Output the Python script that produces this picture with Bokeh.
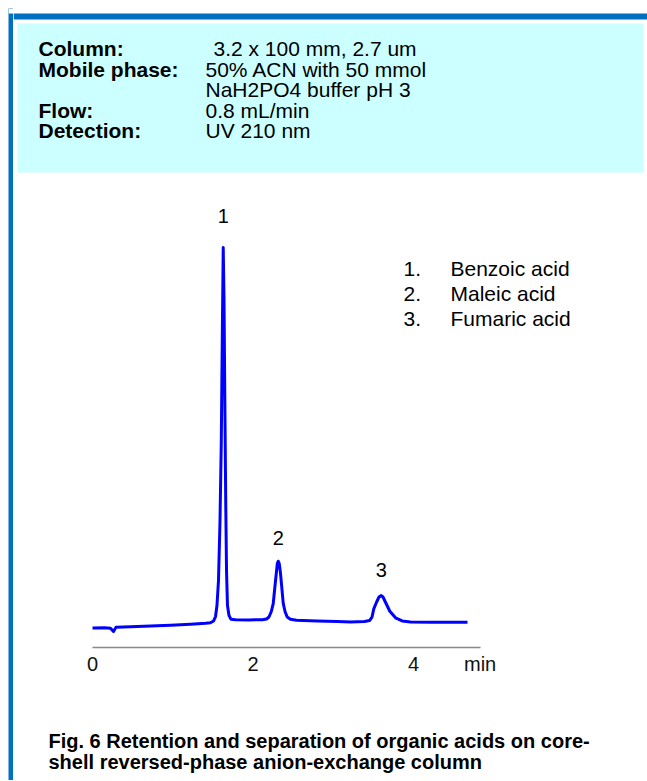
from bokeh.plotting import figure
from bokeh.models import Range1d, FixedTicker
from bokeh.layouts import column, row
from bokeh.embed import file_html
from bokeh.resources import INLINE
from bokeh.core.properties import value

# ---------------- data ----------------
time_min = [0.000, 0.150, 0.224, 0.262, 0.293, 0.474, 0.723, 0.972, 1.221, 1.408,
            1.470, 1.508, 1.533, 1.551, 1.570, 1.589, 1.605, 1.617, 1.629, 1.639,
            1.649, 1.660, 1.670, 1.682, 1.701, 1.726, 1.782, 1.950, 2.118, 2.168,
            2.199, 2.228, 2.252, 2.272, 2.290, 2.303, 2.314, 2.327, 2.343, 2.359,
            2.377, 2.399, 2.426, 2.467, 2.542, 2.800, 3.050, 3.215, 3.389, 3.452,
            3.483, 3.505, 3.539, 3.570, 3.598, 3.620, 3.651, 3.705, 3.776, 3.859,
            3.963, 4.212, 4.461, 4.673]
signal_mau = [-0.13, -0.05, -0.15, -1.00, 0.10, 0.20, 0.38, 0.55, 0.83, 1.05,
              1.20, 1.63, 2.75, 5.51, 11.77, 26.79, 46.82, 71.86, 95.14, 81.87,
              56.84, 31.80, 14.27, 5.51, 3.00, 2.05, 1.93, 1.90, 1.95, 2.13,
              2.63, 4.01, 6.01, 10.02, 13.52, 16.02, 16.60, 16.02, 13.52, 10.02,
              6.01, 4.01, 2.63, 2.05, 1.80, 1.62, 1.48, 1.40, 1.50, 1.75,
              2.63, 4.68, 6.33, 7.64, 8.01, 7.64, 6.33, 4.08, 2.43, 1.65,
              1.38, 1.30, 1.35, 1.33]

peak_ids = ["1", "2", "3"]
peak_times = [1.629, 2.314, 3.598]
peak_label_y = [103.0, 22.5, 14.5]

compound_nums = ["1.", "2.", "3."]
compound_names = ["Benzoic acid", "Maleic acid", "Fumaric acid"]

cond_keys = ["Column:", "Mobile phase:", "", "Flow:", "Detection:"]
cond_values = ["3.2 x 100 mm,  2.7 um", "50% ACN with 50 mmol",
               "NaH2PO4 buffer  pH 3", "0.8 mL/min", "UV 210 nm"]

x_ticks = [0, 2, 4]
x_unit = "min"
x_unit_pos = 4.83

caption_lines = ["Fig. 6 Retention and separation of organic acids on core-",
                 "shell reversed-phase anion-exchange column"]

# ---------------- styling / layout ----------------
BLUE = "#0070C0"
CYAN = "#CCFFFF"
TRACE = "#0000FF"
FONT_NAME = "Liberation Sans"
FONT = value(FONT_NAME)
FS_HEAD = "21px"
FS_LEG = "21px"
FS_AX = "20px"
FS_CAP = "20px"

W = 639
BAR = 5
FRAME_W = W - BAR
FRAME_H = 639
H_B = 102
H_TOTAL = 772
PX_PER_MIN = 80.25
X0 = 79
x_start = -X0 / PX_PER_MIN
x_end = x_start + FRAME_W / PX_PER_MIN

# left frame bar
bar = figure(width=BAR, height=H_TOTAL, output_backend="svg", toolbar_location=None,
             x_range=Range1d(0, 1), y_range=Range1d(H_TOTAL, 0),
             x_axis_location=None, y_axis_location=None,
             min_border_left=0, min_border_right=0, min_border_top=0,
             min_border_bottom=0, background_fill_color=BLUE,
             border_fill_color=BLUE, outline_line_color=None)
bar.grid.visible = False
bar.quad(left=[0], right=[1], top=[0], bottom=[5], fill_color="white", line_color=None)

p = figure(frame_width=FRAME_W, frame_height=FRAME_H, output_backend="svg",
           toolbar_location=None,
           x_range=Range1d(x_start, x_end), y_range=Range1d(-5, 155),
           y_axis_location=None,
           min_border_left=0, min_border_right=0, min_border_top=0,
           min_border_bottom=0,
           border_fill_color="white", background_fill_color="white",
           outline_line_color=None)
p.grid.visible = False
p.extra_x_ranges = {"px": Range1d(BAR, W)}
p.extra_y_ranges = {"py": Range1d(FRAME_H, 0)}

# frame top bar + info box
p.quad(left=[BAR], right=[W], top=[5], bottom=[11], fill_color=BLUE,
       line_color=None, x_range_name="px", y_range_name="py")
p.quad(left=[9], right=[635], top=[15], bottom=[164], fill_color=CYAN,
       line_color=None, x_range_name="px", y_range_name="py")

rows_y = [40, 60.5, 81, 101.5, 122]
p.text(x=[30] * len(cond_keys), y=rows_y, text=cond_keys, text_font=FONT,
       text_font_size=FS_HEAD, text_font_style="bold", text_baseline="middle",
       text_align="left", text_color="black", x_range_name="px", y_range_name="py")
p.text(x=[205, 197, 197, 197, 197], y=rows_y, text=cond_values, text_font=FONT,
       text_font_size=FS_HEAD, text_baseline="middle", text_align="left",
       text_color="black", x_range_name="px", y_range_name="py")

# legend of compounds
leg_y = [260, 285, 310]
p.text(x=[395] * 3, y=leg_y, text=compound_nums, text_font=FONT, text_font_size=FS_LEG,
       text_baseline="middle", text_align="left", text_color="black",
       x_range_name="px", y_range_name="py")
p.text(x=[442] * 3, y=leg_y, text=compound_names, text_font=FONT, text_font_size=FS_LEG,
       text_baseline="middle", text_align="left", text_color="black",
       x_range_name="px", y_range_name="py")

# chromatogram
p.line(time_min, signal_mau, line_color=TRACE, line_width=3, line_join="round")
p.text(x=peak_times, y=peak_label_y, text=peak_ids, text_font=FONT,
       text_font_size=FS_AX, text_baseline="middle", text_align="center",
       text_color="black")

ax = p.xaxis[0]
ax.ticker = FixedTicker(ticks=x_ticks + [x_unit_pos])
ax.major_label_overrides = {x_unit_pos: x_unit}
ax.bounds = (0, x_unit_pos)
ax.axis_line_color = "#888888"
ax.axis_line_width = 1.5
ax.major_tick_line_color = None
ax.minor_tick_line_color = None
ax.major_tick_out = 0
ax.major_tick_in = 0
ax.minor_tick_out = 0
ax.minor_tick_in = 0
ax.major_label_text_font = FONT_NAME
ax.major_label_text_font_size = FS_AX
ax.major_label_text_color = "#111111"
ax.major_label_standoff = 5

# caption figure
q = figure(width=FRAME_W, height=H_B, output_backend="svg", toolbar_location=None,
           x_range=Range1d(BAR, W), y_range=Range1d(H_B, 0),
           x_axis_location=None, y_axis_location=None,
           min_border_left=0, min_border_right=0, min_border_top=0,
           min_border_bottom=0, border_fill_color="white",
           background_fill_color="white", outline_line_color=None)
q.grid.visible = False
q.text(x=[40, 40], y=[63, 84], text=caption_lines, text_font=FONT,
       text_font_size=FS_CAP, text_font_style="bold", text_baseline="middle",
       text_align="left", text_color="black")

layout = row(bar, column(p, q, spacing=0), spacing=0, margin=(8, 0, 0, 8))
open("out.html", "w").write(file_html(layout, INLINE))
